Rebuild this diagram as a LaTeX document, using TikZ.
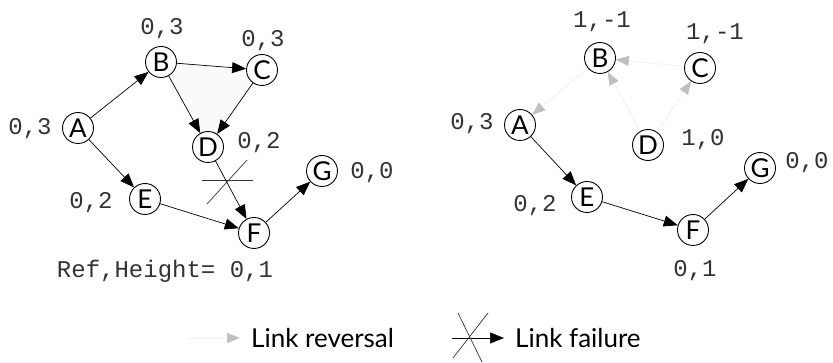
\documentclass[tikz,border=0pt]{standalone}
\usepackage{fontspec}
\setmainfont{Lato}
\newfontfamily\monofont{Liberation Mono}
\usetikzlibrary{arrows.meta}

\tikzset{
  nodo/.style={draw,circle,line width=0.9pt,minimum size=31pt,inner sep=0pt,fill=white,font=\fontsize{26}{26}\selectfont},
  etiq/.style={inner sep=0pt,text=black!80,font=\monofont\fontsize{24}{24}\selectfont},
  flecha/.style={draw=black,line width=0.7pt,-{Triangle[length=14pt,width=11pt]}},
  invertida/.style={draw=gray!12,line width=0.7pt,-{Triangle[length=13pt,width=10pt,color=gray!50,fill=gray!50]}},
  corte/.style={draw=black!80,line width=0.7pt},
  leyenda/.style={inner sep=0pt,anchor=west,font=\fontsize{26}{26}\selectfont}
}

\begin{document}
\begin{tikzpicture}[x=1pt,y=-1pt]
        \useasboundingbox (0,0) rectangle (833,363);
        % Grafo izquierdo: triángulo sombreado
        \fill[gray!4] (161,62) -- (262,70) -- (208,147) -- cycle;
        % Nodos
        \node[nodo] (A1) at (78,128) {A};
        \node[nodo] (B1) at (161,62) {B};
        \node[nodo] (C1) at (262,70) {C};
        \node[nodo] (D1) at (208,147) {D};
        \node[nodo] (E1) at (145,199) {E};
        \node[nodo] (F1) at (254,233) {F};
        \node[nodo] (G1) at (322,171) {G};
        % Alturas
        \node[etiq] (hA1) at (30,129) {0,3};
        \node[etiq] (hB1) at (162,29) {0,3};
        \node[etiq] (hC1) at (263,41) {0,3};
        \node[etiq] (hD1) at (259,143) {0,2};
        \node[etiq] (hE1) at (91,203) {0,2};
        \node[etiq] (hG1) at (372,173) {0,0};
        \node[etiq] (ref) at (165,271) {Ref,Height= 0,1};
        % Aristas
        \draw[flecha] (A1) -- (B1);
        \draw[flecha] (B1) -- (C1);
        \draw[flecha] (B1) -- (D1);
        \draw[flecha] (C1) -- (D1);
        \draw[flecha] (A1) -- (E1);
        \draw[flecha] (D1) -- (F1);
        \draw[flecha] (E1) -- (F1);
        \draw[flecha] (F1) -- (G1);
        % Enlace caído
        \coordinate (x1) at (202,180);
        \coordinate (x2) at (253,180);
        \coordinate (x3) at (207,204);
        \coordinate (x4) at (247,160);
        \draw[corte] (x1) -- (x2);
        \draw[corte] (x3) -- (x4);

        % Grafo derecho
        \node[nodo] (A2) at (520,125) {A};
        \node[nodo] (B2) at (600,58) {B};
        \node[nodo] (C2) at (700,68) {C};
        \node[nodo] (D2) at (648,145) {D};
        \node[nodo] (E2) at (587,197) {E};
        \node[nodo] (F2) at (693,230) {F};
        \node[nodo] (G2) at (760,168) {G};
        % Alturas
        \node[etiq] (hA2) at (472,124) {0,3};
        \node[etiq] (hB2) at (602,22) {1,-1};
        \node[etiq] (hC2) at (715,34) {1,-1};
        \node[etiq] (hD2) at (703,140) {1,0};
        \node[etiq] (hE2) at (535,206) {0,2};
        \node[etiq] (hF2) at (695,271) {0,1};
        \node[etiq] (hG2) at (807,163) {0,0};
        % Enlaces invertidos
        \draw[invertida] (C2) -- (B2);
        \draw[invertida] (B2) -- (A2);
        \draw[invertida] (D2) -- (B2);
        \draw[invertida] (D2) -- (C2);
        % Camino que sigue igual
        \draw[flecha] (A2) -- (E2);
        \draw[flecha] (E2) -- (F2);
        \draw[flecha] (F2) -- (G2);

        % Leyenda
        \coordinate (l1) at (188,338);
        \coordinate (l2) at (240,338);
        \draw[invertida] (l1) -- (l2);
        \node[leyenda] (tl1) at (251,338) {Link reversal};
        \coordinate (m1) at (452,338);
        \coordinate (m2) at (504,338);
        \draw[flecha] (m1) -- (m2);
        \coordinate (c1) at (458,313);
        \coordinate (c2) at (482,362);
        \coordinate (c3) at (488,313);
        \coordinate (c4) at (453,358);
        \draw[corte] (c1) -- (c2);
        \draw[corte] (c3) -- (c4);
        \node[leyenda] (tl2) at (515,338) {Link failure};
    \end{tikzpicture}
\end{document}
